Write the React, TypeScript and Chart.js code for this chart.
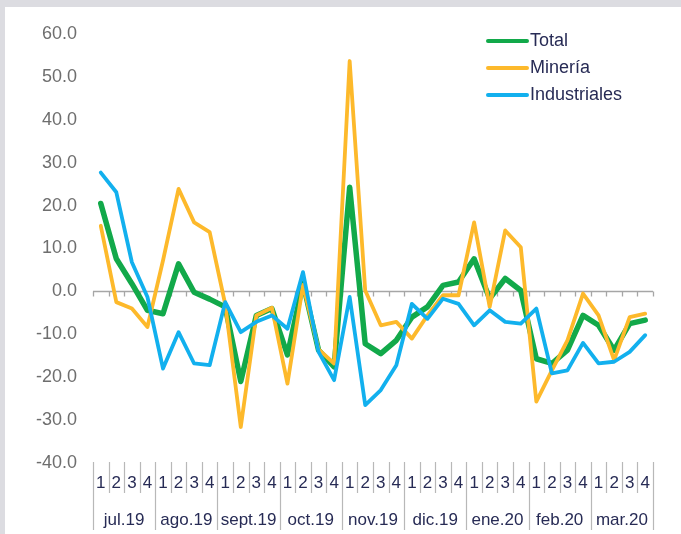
import React, { useEffect, useRef } from "react";
import { Chart, registerables } from "chart.js";

Chart.register(...registerables);

const months = ["jul.19", "ago.19", "sept.19", "oct.19", "nov.19", "dic.19", "ene.20", "feb.20", "mar.20"];
const weeks = ["1", "2", "3", "4"];
const categories: string[] = months.flatMap((m) => weeks.map((w) => `${w} ${m}`));

const totalValues = [20.5, 7.6, 1.8, -4.4, -5.2, 6.4, -0.2, -1.8, -3.6, -21.0, -5.6, -4.0, -14.8, 1.9, -13.7, -17.6, 24.3, -12.2, -14.5, -11.4, -6.0, -3.6, 1.4, 2.2, 7.6, -1.7, 3.0, 0.2, -15.7, -16.8, -13.7, -5.6, -7.9, -13.7, -7.5, -6.7];
const mineriaValues = [15.3, -2.5, -4.0, -8.3, 7.2, 23.9, 16.1, 13.8, -3.0, -31.6, -5.6, -3.8, -21.5, 1.5, -13.5, -16.8, 53.7, 0.2, -7.9, -7.1, -11.0, -5.6, -0.9, -0.9, 16.1, -3.6, 14.2, 10.3, -25.7, -18.4, -11.4, -0.5, -5.6, -16.0, -6.0, -5.2];
const industrialesValues = [27.7, 23.1, 6.8, -1.3, -18.0, -9.5, -16.8, -17.2, -2.5, -9.5, -7.1, -5.6, -8.7, 4.5, -14.1, -20.7, -1.3, -26.5, -23.0, -17.2, -2.9, -6.4, -1.7, -2.9, -7.9, -4.4, -7.1, -7.5, -4.0, -19.1, -18.4, -12.0, -16.8, -16.4, -14.1, -10.2];

const seriesNames = ["Total", "Minería", "Industriales"];
const seriesColors = ["#12a94a", "#fdb92b", "#12b0ee"];
const seriesWidths = [5.5, 3.8, 3.8];

const FONT = "'Liberation Sans', Arial, sans-serif";
const LABEL_COLOR = "#272b55";

const customPlugin = {
  id: "custom",
  beforeDraw(chart: any) {
    const ctx = chart.ctx;
    ctx.save();
    ctx.fillStyle = "#dcdce1";
    ctx.fillRect(0, 0, chart.width, chart.height);
    ctx.fillStyle = "#ffffff";
    ctx.fillRect(5, 7, chart.width - 5, chart.height - 7);
    ctx.restore();
  },
  beforeDatasetsDraw(chart: any) {
    const ctx = chart.ctx;
    const y = chart.scales.y;
    const area = chart.chartArea;
    const y0 = Math.round(y.getPixelForValue(0)) + 0.5;
    const n = categories.length;
    const w = (area.right - area.left) / n;
    ctx.save();
    ctx.strokeStyle = "#a6a6a6";
    ctx.lineWidth = 1.3;
    ctx.beginPath();
    ctx.moveTo(area.left, y0);
    ctx.lineTo(area.right, y0);
    for (let k = 0; k <= n; k++) {
      const bx = Math.round(area.left + k * w) + 0.5;
      ctx.moveTo(bx, y0);
      ctx.lineTo(bx, y0 + 5);
    }
    ctx.stroke();
    ctx.restore();
  },
  afterDraw(chart: any) {
    const ctx = chart.ctx;
    const x = chart.scales.x;
    const area = chart.chartArea;
    const n = categories.length;
    const w = (area.right - area.left) / n;
    ctx.save();
    ctx.strokeStyle = "#b8b8b8";
    ctx.lineWidth = 1.2;
    ctx.beginPath();
    for (let k = 0; k <= n; k++) {
      const bx = Math.round(area.left + k * w) + 0.5;
      const isMonth = k % weeks.length === 0;
      ctx.moveTo(bx, area.bottom - 1);
      ctx.lineTo(bx, isMonth ? area.bottom + 67 : area.bottom + 30);
    }
    ctx.stroke();
    ctx.fillStyle = LABEL_COLOR;
    ctx.font = `17px ${FONT}`;
    ctx.textAlign = "center";
    ctx.textBaseline = "middle";
    categories.forEach((_, i) => {
      const cx = x.getPixelForValue(i);
      ctx.fillText(weeks[i % weeks.length], cx, area.bottom + 20);
    });
    months.forEach((m, j) => {
      const cx = area.left + (j * weeks.length + weeks.length / 2) * w;
      ctx.fillText(m, cx, area.bottom + 57);
    });
    const lx1 = 488;
    const lx2 = 527;
    const ly = [41, 68, 95];
    seriesNames.forEach((name, i) => {
      ctx.strokeStyle = seriesColors[i];
      ctx.lineWidth = 4;
      ctx.lineCap = "round";
      ctx.beginPath();
      ctx.moveTo(lx1, ly[i]);
      ctx.lineTo(lx2, ly[i]);
      ctx.stroke();
      ctx.fillStyle = LABEL_COLOR;
      ctx.font = `18px ${FONT}`;
      ctx.textAlign = "left";
      ctx.textBaseline = "middle";
      ctx.fillText(name, lx2 + 3, ly[i]);
    });
    ctx.restore();
  },
};

export default function App() {
  const canvasRef = useRef<HTMLCanvasElement | null>(null);

  useEffect(() => {
    const canvas = canvasRef.current;
    if (!canvas) return;
    const valueSets = [totalValues, mineriaValues, industrialesValues];
    const chart = new Chart(canvas, {
      type: "line",
      data: {
        labels: categories,
        datasets: seriesNames.map((name, i) => ({
          label: name,
          data: valueSets[i],
          borderColor: seriesColors[i],
          backgroundColor: seriesColors[i],
          borderWidth: seriesWidths[i],
          pointRadius: 0,
          tension: 0,
          fill: false,
          borderJoinStyle: "round" as const,
          borderCapStyle: "round" as const,
          order: 3 - i,
        })),
      },
      options: {
        responsive: false,
        animation: false,
        devicePixelRatio: 1,
        layout: { padding: { left: 0, right: 28, top: 34, bottom: 71 } },
        plugins: {
          legend: { display: false },
          tooltip: { enabled: false },
        },
        scales: {
          x: {
            type: "category",
            display: false,
            offset: true,
          },
          y: {
            min: -40,
            max: 60,
            afterFit: (scale: any) => {
              scale.width = 93;
            },
            border: { display: false },
            grid: { display: false, drawTicks: false },
            ticks: {
              stepSize: 10,
              padding: 16,
              color: "#6e6e6e",
              font: { family: FONT, size: 18 },
              callback: (v: any) => Number(v).toFixed(1),
            },
          },
        },
      },
      plugins: [customPlugin],
    });
    return () => chart.destroy();
  }, []);

  return (
    <div style={{ position: "fixed", left: 0, top: 0, width: 681, height: 534, background: "#fff" }}>
      <canvas ref={canvasRef} width={681} height={534} style={{ display: "block", width: 681, height: 534 }} />
    </div>
  );
}
